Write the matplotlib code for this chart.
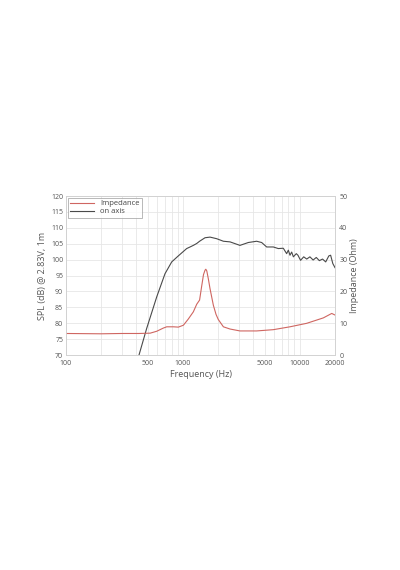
import matplotlib
matplotlib.use("Agg")
import matplotlib.pyplot as plt
from matplotlib.ticker import FixedLocator, NullFormatter

plt.rcParams['font.family'] = ['Open Sans', 'DejaVu Sans']

# on-axis SPL (dB) vs frequency (Hz)
spl_freq = [421, 490, 597, 703, 802, 914, 1077, 1151, 1228, 1313, 1389, 1546, 1706,
            1945, 2220, 2530, 3077, 3625, 4272, 4717, 5207, 5935, 6546, 7224, 7716,
            7977, 8240, 8520, 8810, 9330, 9640, 10150, 10800, 11460, 12200, 13000,
            13830, 14700, 15650, 16650, 17720, 18350, 19150, 20000]
spl_db = [70.0, 78.4, 88.3, 95.6, 99.3, 101.2, 103.5, 104.0, 104.5, 105.1, 105.8, 106.9, 107.1,
          106.6, 105.8, 105.6, 104.5, 105.4, 105.8, 105.4, 104.0, 104.0, 103.5, 103.6, 101.9,
          103.0, 101.4, 102.4, 100.9, 101.9, 101.4, 99.8, 100.9, 100.2, 100.9, 99.9,
          100.7, 99.7, 100.2, 99.3, 101.2, 101.4, 98.8, 97.5]

# impedance (Ohm) vs frequency (Hz)
imp_freq = [100, 200, 300, 420, 525, 597, 680, 727, 829, 914, 1010, 1110, 1228, 1313, 1389,
            1445, 1500, 1546, 1570, 1600, 1650, 1706, 1821, 1920, 2007, 2220, 2530, 3077,
            4272, 5935, 8240, 11460, 15890, 18750, 20000]
imp_ohm = [6.8, 6.7, 6.8, 6.8, 6.9, 7.5, 8.5, 8.9, 8.9, 8.8, 9.4, 11.3, 13.6, 16.0, 17.3,
           21.5, 25.3, 26.7, 27.0, 26.5, 24.0, 20.9, 15.7, 12.8, 11.2, 8.9, 8.2, 7.6,
           7.6, 8.0, 8.9, 10.0, 11.7, 13.1, 12.6]

x_ticks = [100, 500, 1000, 5000, 10000, 20000]
x_grid = [200, 300, 400, 600, 700, 800, 900, 2000, 3000, 4000, 6000, 7000, 8000, 9000]

txt = '#555555'
gridc = '#e6e6e6'

fig = plt.figure(figsize=(4, 5.7), dpi=100)
ax = fig.add_axes([0.165, 0.377, 0.6725, 0.279])
ax2 = ax.twinx()

l_spl, = ax.plot(spl_freq, spl_db, color='#4a4a4a', lw=0.8, label='on axis')
l_imp, = ax2.plot(imp_freq, imp_ohm, color='#cf6661', lw=0.8, label='Impedance')

ax.set_xscale('log')
ax.set_xlim(100, 20000)
ax.set_ylim(70, 120)
ax2.set_ylim(0, 50)

ax.xaxis.set_major_locator(FixedLocator(x_ticks))
ax.xaxis.set_minor_locator(FixedLocator(x_grid))
ax.xaxis.set_minor_formatter(NullFormatter())
ax.set_xticklabels([str(t) for t in x_ticks])
ax.set_yticks(range(70, 121, 5))
ax2.set_yticks(range(0, 51, 10))

ax.grid(True, which='both', color=gridc, lw=0.6)
ax.set_axisbelow(True)

for a in (ax, ax2):
    a.tick_params(which='both', length=0, labelsize=5, colors=txt, pad=2)
    for s in a.spines.values():
        s.set_color('#d2d2d2')
        s.set_linewidth(0.6)
ax.tick_params(axis='x', pad=3.5)
ax2.tick_params(axis='y', pad=3)

ax.set_xlabel('Frequency (Hz)', fontsize=6.5, color=txt, labelpad=2)
ax.set_ylabel('SPL (dB) @ 2.83V, 1m', fontsize=6.5, color=txt, labelpad=3)
ax2.set_ylabel('Impedance (Ohm)', fontsize=6.5, color=txt, labelpad=2)

leg = ax2.legend(handles=[l_imp, l_spl], loc='upper left', fontsize=5.5,
                 frameon=True, fancybox=False, borderpad=0.3, labelspacing=0.1,
                 handlelength=3.2, handletextpad=0.8, borderaxespad=0.2)
leg.get_frame().set_edgecolor('#999999')
leg.get_frame().set_linewidth(0.6)
for t in leg.get_texts():
    t.set_color('#444444')

fig.savefig('out.png', dpi=100)
